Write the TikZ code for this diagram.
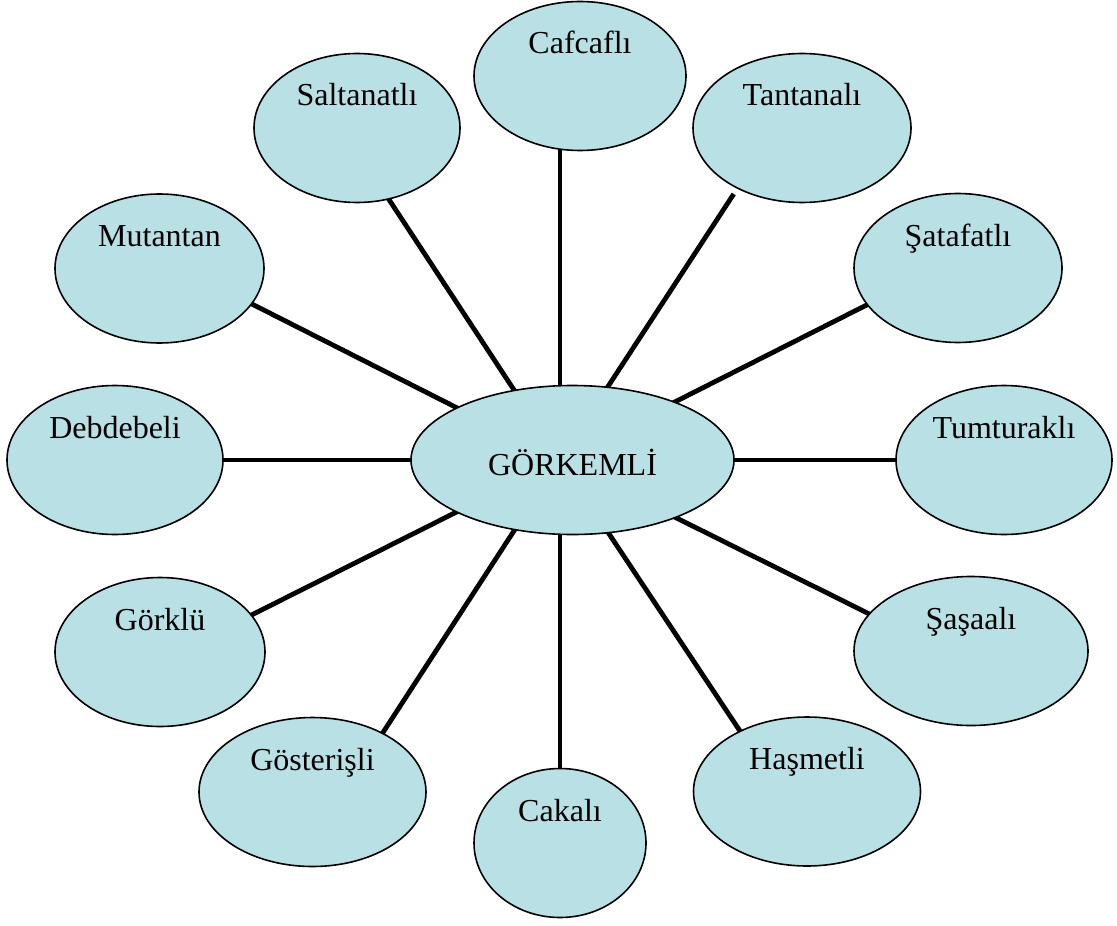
\documentclass[tikz,border=0pt]{standalone}
\usepackage{fontspec}
\setmainfont{Liberation Serif}
\usetikzlibrary{shapes.geometric,backgrounds}
\definecolor{ovalfill}{RGB}{185,224,228}
\tikzset{
  oval/.style={ellipse, draw=black, line width=0.8pt, fill=ovalfill,
    inner sep=0pt, outer sep=0pt, minimum height=74.5pt,
    font=\fontsize{16pt}{19pt}\selectfont, text height=8pt, text depth=30pt},
  hubOval/.style={oval, text height=15.5pt, text depth=0pt},
  spoke/.style={line width=2.4pt, line cap=butt},
}
\begin{document}
\begin{tikzpicture}[x=0.5pt,y=-0.5pt]
\useasboundingbox (0,0) rectangle (1117,925);
\coordinate (hub) at (560,460);

\node[hubOval, minimum width=161.5pt] (gorkemli) at (572.5,460) {GÖRKEMLİ};

\node[oval, minimum width=106pt]   (caf)  at (580,76)      {Cafcaflı};
\node[oval, minimum width=103pt]   (salt) at (357,128)     {Saltanatlı};
\node[oval, minimum width=109pt]   (tant) at (802,128)     {Tantanalı};
\node[oval, minimum width=104.5pt] (mut)  at (159.5,268.5) {Mutantan};
\node[oval, minimum width=104pt]   (sata) at (958,268)     {Şatafatlı};
\node[oval, minimum width=108pt]   (debd) at (115,460)     {Debdebeli};
\node[oval, minimum width=108pt]   (tumt) at (1004,460)    {Tumturaklı};
\node[oval, minimum width=105pt]   (gork) at (160,652)     {Görklü};
\node[oval, minimum width=117pt]   (sasa) at (971,651)     {Şaşaalı};
\node[oval, minimum width=113.5pt] (gost) at (312.5,792)   {Gösterişli};
\node[oval, minimum width=86pt]    (caka) at (560,843)     {Cakalı};
\node[oval, minimum width=113.5pt] (hasm) at (807,791.5)   {Haşmetli};

\begin{scope}[on background layer]
  \draw[spoke] (hub) -- (hub |- caf.south);
  \draw[spoke] (hub) -- (salt.-66.7);
  \draw[spoke, shorten >=3.5pt] (hub) -- (tant.223.8);
  \draw[spoke] (hub) -- (mut.-21.3);
  \draw[spoke] (hub) -- (sata.202.2);
  \draw[spoke] (hub) -- (debd.east);
  \draw[spoke] (hub) -- (tumt.west);
  \draw[spoke] (hub) -- (gork.22.5);
  \draw[spoke] (hub) -- (sasa.160.3);
  \draw[spoke] (hub) -- (gost.40.5);
  \draw[spoke] (hub) -- (caka.north);
  \draw[spoke] (hub) -- (hasm.138.1);
\end{scope}
\end{tikzpicture}
\end{document}
